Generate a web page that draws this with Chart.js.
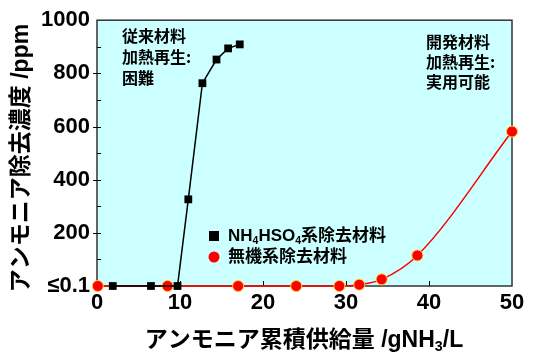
<!DOCTYPE html>
<html>
<head>
<meta charset="utf-8">
<script src="https://cdn.jsdelivr.net/npm/chart.js@4"></script>
<style>
  html, body { margin: 0; padding: 0; background: #fff; }
  #wrap { width: 540px; height: 361px; }
</style>
</head>
<body>
<div id="wrap"><canvas id="chart" width="540" height="361"></canvas></div>
<script>
// data
const nhX = [1.9, 6.5, 9.7, 11.0, 12.7, 14.4, 15.8, 17.2];
const nhY = [0, 0, 0, 326, 763, 852, 894, 909];
const inX = [0.1, 8.5, 17.0, 24.0, 29.2, 31.6, 34.3, 38.6, 50.0];
const inY = [0, 0, 0, 0, 0, 5, 25, 115, 581];
const xTicks = [0, 10, 20, 30, 40, 50];
const yTicks = [0, 200, 400, 600, 800, 1000];
const yLabels = ['≤0.1', '200', '400', '600', '800', '1000'];

const FONT = '"Liberation Sans", "Noto Sans CJK JP", Arial, sans-serif';
const CJK = '"Noto Sans CJK JP", "Liberation Sans", sans-serif';

// draw text made of normal and subscript pieces
function drawParts(ctx, parts, x, y, size, family) {
  parts.forEach(p => {
    const s = p.sub ? size * 0.62 : size;
    ctx.font = `bold ${s}px ${family}`;
    ctx.fillText(p.t, x, p.sub ? y + size * 0.28 : y);
    x += ctx.measureText(p.t).width;
  });
  return x;
}
function partsWidth(ctx, parts, size, family) {
  let w = 0;
  parts.forEach(p => {
    ctx.font = `bold ${p.sub ? size * 0.62 : size}px ${family}`;
    w += ctx.measureText(p.t).width;
  });
  return w;
}

const decor = {
  id: 'decor',
  beforeDatasetsDraw(chart) {
    const { ctx, chartArea: a, scales: { x, y } } = chart;
    ctx.save();
    // frame
    ctx.strokeStyle = '#333';
    ctx.lineWidth = 1.5;
    ctx.strokeRect(a.left, a.top, a.right - a.left, a.bottom - a.top);
    // inward ticks
    ctx.strokeStyle = '#000';
    ctx.lineWidth = 1;
    ctx.beginPath();
    for (let v = 100; v < 1000; v += 100) {
      const py = Math.round(y.getPixelForValue(v)) + 0.5;
      const major = v % 200 === 0;
      ctx.moveTo(a.left - (major ? 4 : 0), py);
      ctx.lineTo(a.left + 4, py);
    }
    xTicks.slice(1, -1).forEach(v => {
      const px = Math.round(x.getPixelForValue(v)) + 0.5;
      ctx.moveTo(px, a.bottom);
      ctx.lineTo(px, a.bottom - 5);
    });
    ctx.stroke();
    ctx.restore();
  },
  afterDraw(chart) {
    const { ctx } = chart;
    ctx.save();
    ctx.fillStyle = '#000';
    ctx.textBaseline = 'middle';
    ctx.textAlign = 'left';

    // annotations
    ctx.font = `bold 16px ${CJK}`;
    ['従来材料', '加熱再生:', '困難'].forEach((t, i) => ctx.fillText(t, 122, 36 + i * 21));
    ['開発材料', '加熱再生:', '実用可能'].forEach((t, i) => ctx.fillText(t, 426, 42 + i * 20));

    // legend
    ctx.fillRect(209, 231, 10, 10);
    ctx.beginPath();
    ctx.arc(214, 257, 5.5, 0, Math.PI * 2);
    ctx.fillStyle = '#ff0000';
    ctx.fill();
    ctx.fillStyle = '#000';
    drawParts(ctx, [{ t: 'NH' }, { t: '4', sub: true }, { t: 'HSO' }, { t: '4', sub: true }, { t: '系除去材料' }], 228, 236, 17, FONT);
    drawParts(ctx, [{ t: '無機系除去材料' }], 228, 257, 17, FONT);

    // x title
    const xt = [{ t: 'アンモニア累積供給量 /gNH' }, { t: '3', sub: true }, { t: '/L' }];
    const w = partsWidth(ctx, xt, 23, FONT);
    drawParts(ctx, xt, 304 - w / 2, 341, 23, FONT);

    // y title
    ctx.translate(22, 158);
    ctx.rotate(-Math.PI / 2);
    ctx.textAlign = 'center';
    ctx.font = `bold 23px ${FONT}`;
    ctx.fillText('アンモニア除去濃度 /ppm', 0, 0);
    ctx.restore();
  }
};

const bgPlugin = {
  id: 'bg',
  beforeDraw(chart) {
    const { ctx, chartArea: a } = chart;
    ctx.save();
    ctx.fillStyle = '#ccffff';
    ctx.fillRect(a.left, a.top, a.right - a.left, a.bottom - a.top);
    ctx.restore();
  }
};

new Chart(document.getElementById('chart'), {
  type: 'scatter',
  data: {
    datasets: [
      {
        label: 'NH4HSO4系除去材料',
        data: nhX.map((v, i) => ({ x: v, y: nhY[i] })),
        showLine: true,
        borderColor: '#000',
        backgroundColor: '#000',
        borderWidth: 1.5,
        pointStyle: 'rect',
        pointRadius: 5.5,
        pointBorderWidth: 0,
        tension: 0,
        clip: false,
        order: 1
      },
      {
        label: '無機系除去材料',
        data: inX.map((v, i) => ({ x: v, y: inY[i] })),
        showLine: true,
        borderColor: '#ff0000',
        backgroundColor: '#ff0000',
        pointBorderColor: '#ffcc33',
        pointBorderWidth: 1,
        borderWidth: 1.5,
        pointRadius: 5.5,
        cubicInterpolationMode: 'monotone',
        clip: false,
        order: 2
      }
    ]
  },
  options: {
    responsive: false,
    animation: false,
    events: [],
    layout: { padding: { left: 0, right: 28, top: 16, bottom: 0 } },
    plugins: { legend: { display: false }, tooltip: { enabled: false } },
    scales: {
      x: {
        type: 'linear',
        min: 0, max: 50,
        afterBuildTicks: s => { s.ticks = xTicks.map(v => ({ value: v })); },
        afterFit: s => { s.height = 75; },
        grid: { display: false, drawTicks: false },
        border: { display: false },
        ticks: { color: '#000', padding: 4, font: { family: FONT, size: 22, weight: 'bold' } }
      },
      y: {
        type: 'linear',
        min: 0, max: 1000,
        afterBuildTicks: s => { s.ticks = yTicks.map(v => ({ value: v })); },
        afterFit: s => { s.width = 97; },
        grid: { display: false, drawTicks: false },
        border: { display: false },
        ticks: {
          color: '#000', padding: 7,
          font: { family: FONT, size: 22, weight: 'bold' },
          callback: (v) => yLabels[yTicks.indexOf(v)]
        }
      }
    }
  },
  plugins: [bgPlugin, decor]
});
</script>
</body>
</html>
